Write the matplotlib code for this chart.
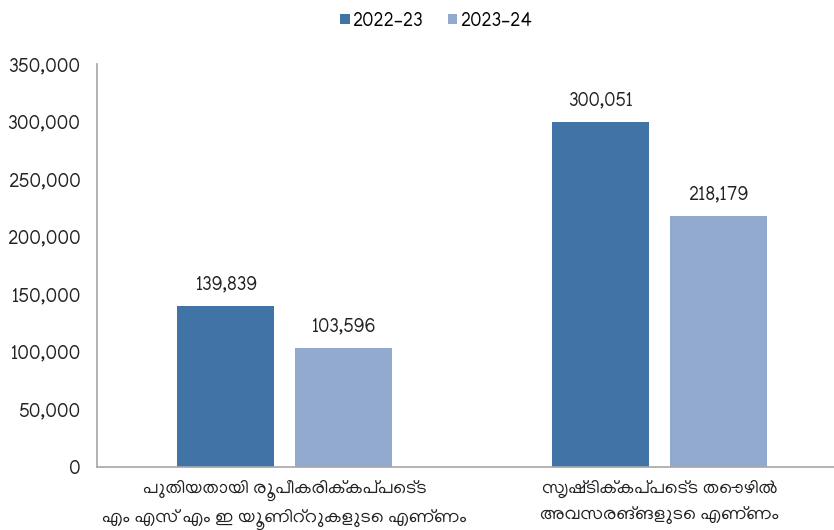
import matplotlib
matplotlib.use("Agg")
import matplotlib.pyplot as plt
import numpy as np

plt.rcParams['font.family'] = ['Manjari', 'Noto Sans Malayalam', 'DejaVu Sans']

categories = [
    "പുതിയതായി രൂപീകരിക്കപ്പെട്ട\nഎം എസ് എം ഇ യൂണിറ്റുകളുടെ എണ്ണം",
    "സൃഷ്ടിക്കപ്പെട്ട തൊഴിൽ\nഅവസരങ്ങളുടെ എണ്ണം",
]
series_names = ["2022–23", "2023–24"]
values_2022 = [139839, 300051]
values_2023 = [103596, 218179]
colors = ["#4173a6", "#93aad0"]

fig = plt.figure(figsize=(8.34, 5.3), dpi=100)
ax = fig.add_axes([97 / 834, 63 / 530, 750 / 834, 403 / 530])

x = np.arange(len(categories))
w = 0.259
off = 0.157
b1 = ax.bar(x - off, values_2022, w, color=colors[0], label=series_names[0])
b2 = ax.bar(x + off, values_2023, w, color=colors[1], label=series_names[1])

for bars in (b1, b2):
    for r in bars:
        ax.annotate(f"{int(r.get_height()):,}",
                    (r.get_x() + r.get_width() / 2, r.get_height()),
                    xytext=(0, 9), textcoords="offset points",
                    ha="center", va="bottom", fontsize=13.5, color="#222222")

ax.set_xlim(-0.5, 1.5)
ax.set_ylim(0, 350000)
ax.set_yticks(np.arange(0, 350001, 50000))
ax.yaxis.set_major_formatter(matplotlib.ticker.FuncFormatter(lambda v, p: f"{int(v):,}"))
ax.set_xticks(x)
ax.set_xticklabels(categories, fontsize=13.5, linespacing=1.5)
ax.tick_params(axis="y", length=0, labelsize=14, labelcolor="#222222", pad=12)
ax.tick_params(axis="x", length=0, labelcolor="#222222", pad=9)

for s in ("top", "right"):
    ax.spines[s].set_visible(False)
for s in ("left", "bottom"):
    ax.spines[s].set_color("#a6a6a6")
    ax.spines[s].set_linewidth(1.2)

fig.legend(loc="upper center", bbox_to_anchor=(0.523, 1.01), ncol=2, frameon=False,
           fontsize=13.5, handlelength=0.5, handleheight=0.5, handletextpad=0.15,
           columnspacing=1.3)

fig.savefig("out.png", dpi=100)
